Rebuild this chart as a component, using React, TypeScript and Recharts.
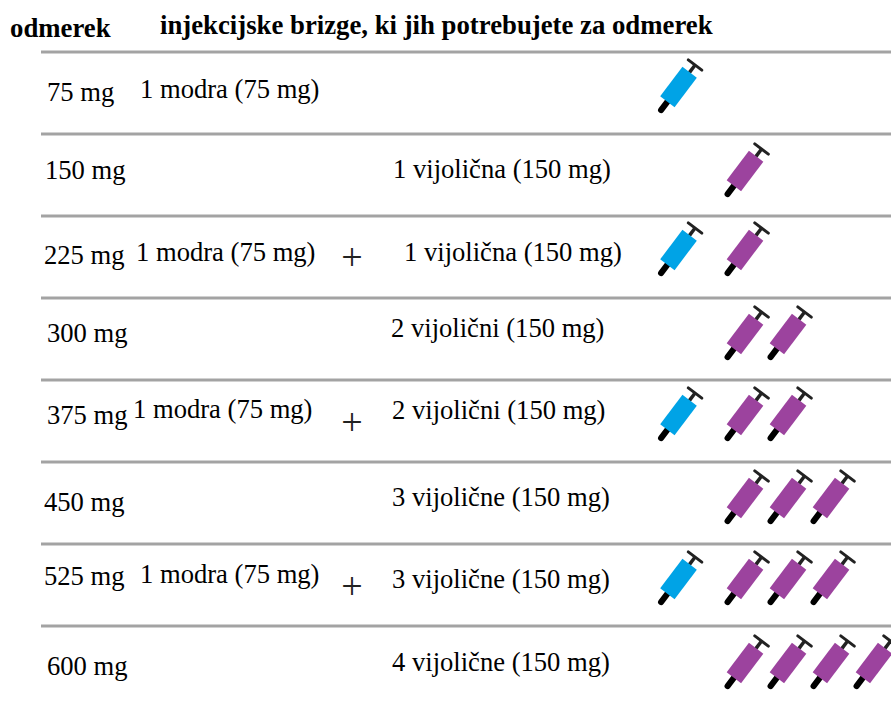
import React from "react";
import { ScatterChart, Scatter, XAxis, YAxis, ReferenceLine } from "recharts";

// ---- chart content ----
const doseLabels = ["75 mg", "150 mg", "225 mg", "300 mg", "375 mg", "450 mg", "525 mg", "600 mg"];
const blueLabels = ["1 modra (75 mg)", "", "1 modra (75 mg)", "", "1 modra (75 mg)", "", "1 modra (75 mg)", ""];
const purpleLabels = ["", "1 vijolična (150 mg)", "1 vijolična (150 mg)", "2 vijolični (150 mg)", "2 vijolični (150 mg)", "3 vijolične (150 mg)", "3 vijolične (150 mg)", "4 vijolične (150 mg)"];
const blueCounts = [1, 0, 1, 0, 1, 0, 1, 0];
const purpleCounts = [0, 1, 1, 2, 2, 3, 3, 4];
const headerDose = "odmerek";
const headerSyringes = "injekcijske brizge, ki jih potrebujete za odmerek";

// ---- layout (separate from the content above) ----
const W = 891;
const H = 702;
const ROW_H = 82;
const TOP = 52;
const FONT = '"Liberation Serif", "Times New Roman", serif';
const FS = 26.6;
const HEADER_FS = 26.75;
const doseX = [47, 45, 44, 47, 47, 44, 44, 47];
const doseBase = [101, 179, 264, 342, 424, 511, 585, 675];
const blueX = [140, 0, 136, 0, 133, 0, 140, 0];
const blueBase = [98, 0, 261, 0, 418, 0, 583, 0];
const purpleX = [0, 393, 404, 391, 392, 392, 392, 392];
const purpleBase = [0, 178, 261, 337, 419, 506, 588, 671];
const syringeY = [87, 171, 250, 334, 415, 498, 579, 663];
const blueSyringeX = 678.5;
const purpleSyringeX = [745, 788, 831, 874];
const plusX = 352;
const BLUE = "#00a3e6";
const PURPLE = "#9c439e";

const toRow = (py: number) => (py - TOP) / ROW_H;

const textPoints: any[] = [
  { x: 10, y: toRow(37), text: headerDose, bold: true },
  { x: 160, y: toRow(34), text: headerSyringes, bold: true },
];
doseLabels.forEach((t, i) => {
  textPoints.push({ x: doseX[i], y: toRow(doseBase[i]), text: t });
});
blueLabels.forEach((t, i) => {
  if (t) textPoints.push({ x: blueX[i], y: toRow(blueBase[i]), text: t });
});
purpleLabels.forEach((t, i) => {
  if (t) textPoints.push({ x: purpleX[i], y: toRow(purpleBase[i]), text: t });
});

const plusPoints: any[] = [];
blueCounts.forEach((b, i) => {
  if (b > 0 && purpleCounts[i] > 0) plusPoints.push({ x: plusX, y: toRow(syringeY[i] + 19.5), text: "+" });
});

const bluePoints: any[] = [];
const purplePoints: any[] = [];
doseLabels.forEach((_, i) => {
  for (let k = 0; k < blueCounts[i]; k++) bluePoints.push({ x: blueSyringeX, y: toRow(syringeY[i]) });
  for (let k = 0; k < purpleCounts[i]; k++) purplePoints.push({ x: purpleSyringeX[k], y: toRow(syringeY[i]) });
});

const rules = doseLabels.map((_, i) => i);

const TextShape = (props: any) => {
  const p = props.payload ?? props;
  return (
    <text x={props.cx} y={props.cy} fontFamily={FONT} fontSize={p.bold ? HEADER_FS : FS} fontWeight={p.bold ? 700 : 400} fill="#000">
      {p.text}
    </text>
  );
};

const PlusShape = (props: any) => (
  <text x={props.cx} y={props.cy} textAnchor="middle" fontFamily={FONT} fontSize={38} fill="#222">
    +
  </text>
);

const makeSyringe = (color: string) => (props: any) => (
  <g transform={`translate(${props.cx},${props.cy}) rotate(37)`}>
    <line x1={0} y1={18} x2={0} y2={29} stroke="#000" strokeWidth={6} strokeLinecap="round" />
    <line x1={0} y1={-18} x2={0} y2={-27} stroke="#222" strokeWidth={3.5} />
    <line x1={-8.5} y1={-27.5} x2={8.5} y2={-27.5} stroke="#222" strokeWidth={3} strokeLinecap="round" />
    <rect x={-9} y={-18.5} width={18} height={37} fill={color} />
  </g>
);

export default function App() {
  return (
    <div style={{ position: "absolute", left: 0, top: 0, width: W, height: H, background: "#fff" }}>
      <ScatterChart width={W} height={H} margin={{ top: 0, right: 0, bottom: 0, left: 0 }}>
        <XAxis type="number" dataKey="x" domain={[0, W]} hide />
        <YAxis type="number" dataKey="y" reversed domain={[-TOP / ROW_H, (H - TOP) / ROW_H]} hide />
        {rules.map((r) => (
          <ReferenceLine
            key={r}
            segment={[
              { x: 41, y: r },
              { x: W, y: r },
            ]}
            stroke="#a3a3a3"
            strokeWidth={3}
          />
        ))}
        <Scatter data={textPoints} shape={TextShape} isAnimationActive={false} />
        <Scatter data={plusPoints} shape={PlusShape} isAnimationActive={false} />
        <Scatter data={bluePoints} fill={BLUE} shape={makeSyringe(BLUE)} isAnimationActive={false} />
        <Scatter data={purplePoints} fill={PURPLE} shape={makeSyringe(PURPLE)} isAnimationActive={false} />
      </ScatterChart>
    </div>
  );
}
